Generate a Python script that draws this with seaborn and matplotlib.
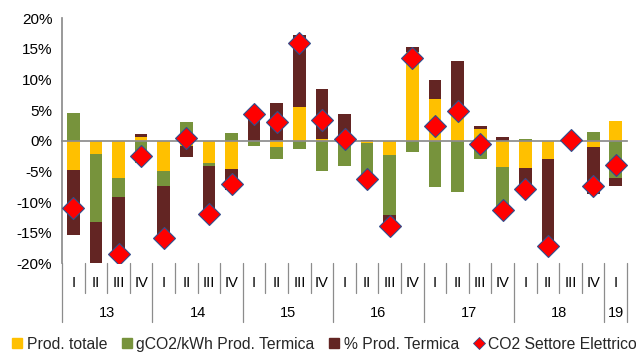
import numpy as np
import pandas as pd
import matplotlib
matplotlib.use("Agg")
import matplotlib.pyplot as plt
from matplotlib.lines import Line2D
from matplotlib.transforms import blended_transform_factory
import seaborn as sns

years = ["13", "14", "15", "16", "17", "18", "19"]
quarters = ["I", "II", "III", "IV"] * 6 + ["I"]
year_of_q = ["13"] * 4 + ["14"] * 4 + ["15"] * 4 + ["16"] * 4 + ["17"] * 4 + ["18"] * 4 + ["19"]

prod_totale = [-4.7, -2.2, -6.0, 0.6,
               -4.9, -0.8, -3.7, -4.6,
               0.0, -1.0, 5.5, 0.3,
               0.0, -0.3, -2.4, 14.5,
               6.8, 5.0, 1.85, -4.2,
               -4.4, -2.9, 0.0, -1.0,
               3.3]
gco2_termica = [4.5, -11.0, -3.1, -3.7,
                -2.4, 3.1, -0.4, 1.2,
                -0.8, -2.0, -1.3, -5.0,
                -4.1, -5.8, -9.7, -1.8,
                -7.6, -8.3, -2.9, -7.0,
                0.3, 0.0, 0.0, 1.4,
                -6.1]
pct_termica = [-10.7, -7.1, -9.6, 0.55,
               -8.5, -1.9, -8.2, -3.4,
               4.6, 6.1, 11.7, 8.1,
               4.3, 0.2, -2.2, 0.8,
               3.1, 8.1, 0.5, 0.6,
               -3.6, -14.4, 0.0, -7.75,
               -1.2]
co2_settore = [-10.9, np.nan, -18.5, -2.5,
               -15.8, 0.5, -12.0, -7.0,
               4.3, 3.1, 15.9, 3.4,
               0.3, -6.3, -13.9, 13.6,
               2.4, 4.8, -0.5, -11.3,
               -7.9, -17.1, 0.1, -7.3,
               -4.0]

series_names = ["Prod. totale", "gCO2/kWh Prod. Termica", "% Prod. Termica"]
series_vals = [prod_totale, gco2_termica, pct_termica]
colors = ["#FFC000", "#77933C", "#632523"]

cats = [f"{y} {q}" for y, q in zip(year_of_q, quarters)]
n = len(cats)

sns.set_theme(style="white")
plt.rcParams["font.family"] = ["Liberation Sans", "DejaVu Sans"]

fig, ax = plt.subplots(figsize=(6.36, 3.52), dpi=100)
fig.subplots_adjust(left=0.0975, right=0.986, top=0.948, bottom=0.252)

pos_base = np.zeros(n)
neg_base = np.zeros(n)
for name, vals, col in zip(series_names, series_vals, colors):
    v = np.array(vals, dtype=float)
    bottom = np.where(v >= 0, pos_base, neg_base)
    df = pd.DataFrame({"cat": cats, "val": v})
    sns.barplot(data=df, x="cat", y="val", order=cats, color=col, width=0.56,
                saturation=1, errorbar=None, bottom=bottom, linewidth=0, ax=ax,
                zorder=2)
    pos_base = pos_base + np.where(v >= 0, v, 0)
    neg_base = neg_base + np.where(v < 0, v, 0)

dfc = pd.DataFrame({"cat": cats, "val": co2_settore})
sns.pointplot(data=dfc, x="cat", y="val", order=cats, linestyle="none", markers="D",
              color="#FF0000", markersize=11, markeredgecolor="#2F4F8F",
              markeredgewidth=0.8, errorbar=None, ax=ax, zorder=5)

ax.set_xlim(-0.5, n - 0.5)
ax.set_ylim(-20, 20)
ax.set_yticks(np.arange(-20, 21, 5))
ax.set_yticklabels([f"{t}%" for t in range(-20, 21, 5)], fontsize=11, color="#000000")
ax.set_xticks(np.arange(n + 1) - 0.5)
ax.set_xticklabels([])
ax.set_xlabel("")
ax.set_ylabel("")

gray = "#8C8C8C"
for s in ["top", "right"]:
    ax.spines[s].set_visible(False)
ax.spines["left"].set_color(gray)
ax.spines["bottom"].set_color(gray)
ax.spines["bottom"].set_position(("data", 0))
ax.spines["bottom"].set_zorder(3)
ax.tick_params(axis="both", direction="out", length=4, width=0.9, color=gray, pad=3)
ax.tick_params(axis="x", length=3.5)

trans = blended_transform_factory(ax.transData, ax.transAxes)
q_bottom = -0.1224
y_bottom = -0.238
year_bounds = [-0.5]
idx = 0
for y in years:
    cnt = year_of_q.count(y)
    year_bounds.append(idx + cnt - 0.5)
    ax.text(idx + (cnt - 1) / 2, -0.203, y, transform=trans, ha="center", va="center",
            fontsize=10.5, color="#000000")
    idx += cnt
for i in range(n + 1):
    b = i - 0.5
    yb = y_bottom if b in year_bounds else q_bottom
    ax.plot([b, b], [0, yb], transform=trans, color=gray, lw=0.9, clip_on=False)
for i, q in enumerate(quarters):
    ax.text(i, -0.08, q, transform=trans, ha="center", va="center",
            fontsize=10.5, color="#000000")

handles = [Line2D([], [], marker="s", linestyle="none", color=c, markersize=7)
           for c in colors]
handles.append(Line2D([], [], marker="D", linestyle="none", color="#FF0000",
                      markeredgecolor="#2F4F8F", markeredgewidth=0.6, markersize=6))
labels = series_names + ["CO2 Settore Elettrico"]
fig.legend(handles, labels, loc="center", bbox_to_anchor=(0.51, 0.022), ncol=4,
           frameon=False, fontsize=11.3, handlelength=0.7, handletextpad=0.25,
           columnspacing=0.9, borderaxespad=0)

fig.savefig("out.png", dpi=100)
